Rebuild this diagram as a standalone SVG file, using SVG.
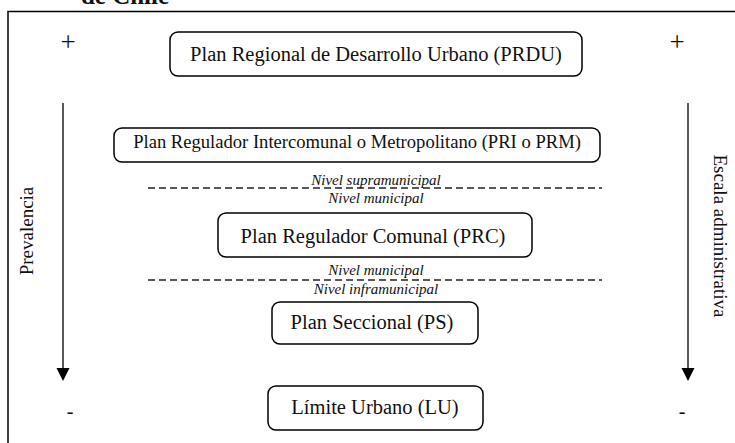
<svg xmlns="http://www.w3.org/2000/svg" width="735" height="443" viewBox="0 0 735 443">
<style>
.box{fill:#fff;stroke:#000;stroke-width:1.5}
.t{font-family:"Liberation Serif","Times New Roman",serif;font-size:20.5px;fill:#111;text-anchor:middle}
.t2{font-family:"Liberation Serif","Times New Roman",serif;font-size:18.6px;fill:#111;text-anchor:middle}
.r{font-family:"Liberation Serif","Times New Roman",serif;font-size:19px;fill:#111;text-anchor:middle}
.i{font-family:"Liberation Serif","Times New Roman",serif;font-size:15px;font-style:italic;fill:#111;text-anchor:middle}
.s{font-family:"Liberation Serif","Times New Roman",serif;font-size:27px;fill:#111;text-anchor:middle}
.m{font-family:"Liberation Serif","Times New Roman",serif;font-size:20px;fill:#111;text-anchor:middle}
.dash{stroke:#222;stroke-width:1.3;stroke-dasharray:7,4;fill:none}
.ax{stroke:#222;stroke-width:1.5;fill:none}
.head{fill:#000}
</style>
<rect fill="#fff" width="735" height="443"/>
<text x="125" y="4" font-family="Liberation Serif, serif" font-weight="bold" font-size="25" text-anchor="middle" fill="#111">de Chile</text>
<rect x="8" y="11.5" width="740" height="440" fill="none" stroke="#000" stroke-width="1.5"/>

<g id="connectors">
<line class="ax" x1="63" y1="103" x2="63" y2="368"/>
<path class="head" d="M56.5,368 L69.5,368 L63,381 Z"/>
<line class="ax" x1="688" y1="103" x2="688" y2="368"/>
<path class="head" d="M681.5,368 L694.5,368 L688,381 Z"/>
<line class="dash" x1="148" y1="188" x2="602" y2="188"/>
<line class="dash" x1="148" y1="280" x2="602" y2="280"/>
</g>

<g id="labels">
<text class="s" x="68" y="51">+</text>
<text class="s" x="677" y="51">+</text>
<text class="m" x="70" y="418">-</text>
<text class="m" x="682" y="418">-</text>
<text class="r" transform="translate(33 231) rotate(-90)">Prevalencia</text>
<text class="r" transform="translate(714 236) rotate(90)">Escala administrativa</text>
<text class="i" x="376" y="185">Nivel supramunicipal</text>
<text class="i" x="376" y="203">Nivel municipal</text>
<text class="i" x="376" y="275">Nivel municipal</text>
<text class="i" x="376" y="294">Nivel inframunicipal</text>
</g>

<g id="prdu">
<rect class="box" x="170" y="32" width="412" height="44" rx="8"/>
<text class="t" x="376" y="61">Plan Regional de Desarrollo Urbano (PRDU)</text>
</g>
<g id="pri">
<rect class="box" x="114" y="128" width="486" height="34" rx="8"/>
<text class="t2" x="357" y="148">Plan Regulador Intercomunal o Metropolitano (PRI o PRM)</text>
</g>
<g id="prc">
<rect class="box" x="218" y="213" width="314" height="44" rx="8"/>
<text class="t" x="373" y="243">Plan Regulador Comunal (PRC)</text>
</g>
<g id="ps">
<rect class="box" x="272" y="302" width="206" height="42" rx="8"/>
<text class="t" x="372" y="329">Plan Seccional (PS)</text>
</g>
<g id="lu">
<rect class="box" x="268" y="386" width="215" height="44" rx="8"/>
<text class="t" x="375" y="414">Límite Urbano (LU)</text>
</g>
</svg>
